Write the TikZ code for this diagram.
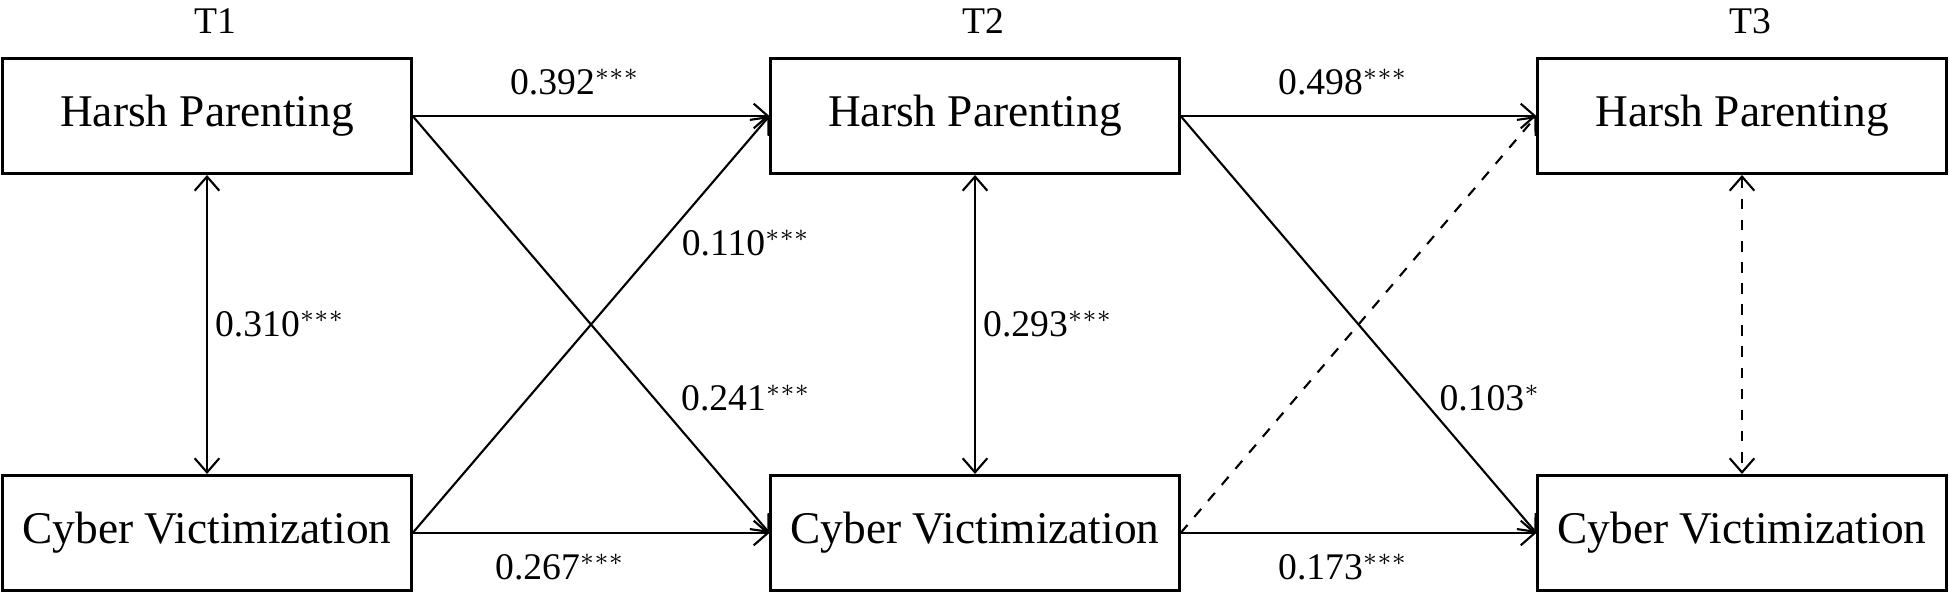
\documentclass[tikz,border=0pt]{standalone}
\usepackage{fontspec}
\setmainfont{Liberation Serif}
\usetikzlibrary{arrows.meta}
\tikzstyle{box} = [rectangle, draw=black, line width=0.85pt, minimum width=4.08cm, minimum height=1.15cm, inner sep=0pt, font=\fontsize{12.9}{15}\selectfont]
\tikzstyle{arrow} = [line width=0.6pt, -{Straight Barb[length=4pt,width=7pt]}]
\tikzstyle{biarrow} = [line width=0.6pt, {Straight Barb[length=4pt,width=7pt]}-{Straight Barb[length=4pt,width=7pt]}]
\tikzstyle{coef} = [font=\fontsize{10.7}{12}\selectfont, inner sep=1pt]
\begin{document}
\begin{tikzpicture}[x=0.01cm, y=-0.01cm]
\useasboundingbox (0,0) rectangle (1949,595);

\node (T1) [coef] at (215,21) {T1};
\node (T2) [coef] at (983,21) {T2};
\node (T3) [coef] at (1750,21) {T3};

\node (hp1) [box] at (207,116) {Harsh Parenting};
\node (cv1) [box] at (207,533) {Cyber Victimization};
\node (hp2) [box] at (975,116) {Harsh Parenting};
\node (cv2) [box] at (975,533) {Cyber Victimization};
\node (hp3) [box] at (1742,116) {Harsh Parenting};
\node (cv3) [box] at (1742,533) {Cyber Victimization};

\draw [arrow] (hp1.east) -- (hp2.west);
\draw [arrow] (hp1.east) -- (cv2.west);
\draw [arrow] (cv1.east) -- (hp2.west);
\draw [arrow] (cv1.east) -- (cv2.west);
\draw [biarrow] (hp1) -- (cv1);

\draw [arrow] (hp2.east) -- (hp3.west);
\draw [arrow] (hp2.east) -- (cv3.west);
\draw [arrow, dashed] (cv2.east) -- (hp3.west);
\draw [arrow] (cv2.east) -- (cv3.west);
\draw [biarrow] (hp2) -- (cv2);
\draw [biarrow, dashed] (hp3) -- (cv3);

\node (c1) [coef] at (575,82) {0.392$^{***}$};
\node (c2) [coef] at (746,243) {0.110$^{***}$};
\node (c3) [coef] at (280,324) {0.310$^{***}$};
\node (c4) [coef] at (746,398) {0.241$^{***}$};
\node (c5) [coef] at (560,567) {0.267$^{***}$};
\node (c6) [coef] at (1343,82) {0.498$^{***}$};
\node (c7) [coef] at (1048,324) {0.293$^{***}$};
\node (c8) [coef] at (1490,398) {0.103$^{*}$};
\node (c9) [coef] at (1343,567) {0.173$^{***}$};

\end{tikzpicture}
\end{document}
